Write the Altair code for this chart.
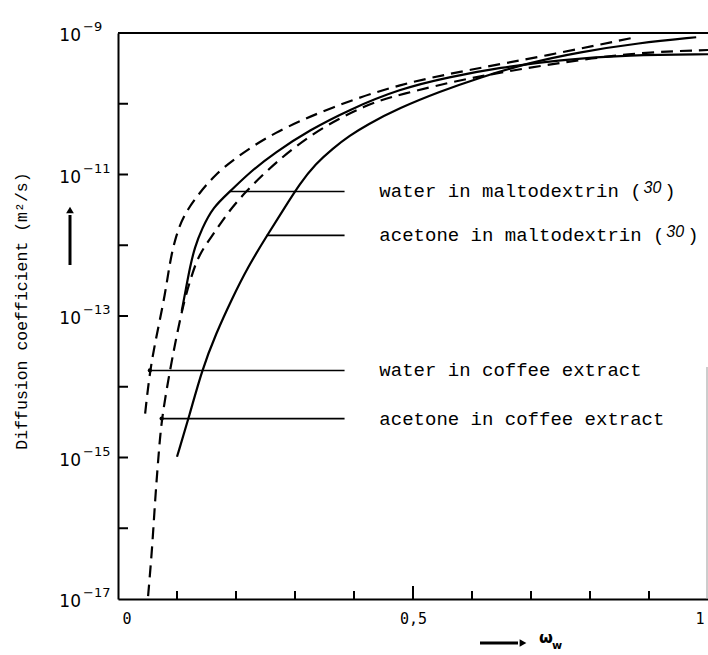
import altair as alt
import pandas as pd

W, H = 590, 566

# ---- curves: x = omega_w, y = log10(D / m^2 s^-1) ----
water_malto_x = [0.108, 0.115, 0.122, 0.130, 0.142, 0.161, 0.190, 0.223, 0.266, 0.325, 0.393, 0.477, 0.562, 0.646, 0.748, 0.866, 1.0]
water_malto_y = [-12.93, -12.62, -12.31, -12.03, -11.77, -11.46, -11.24, -10.97, -10.69, -10.37, -10.08, -9.79, -9.62, -9.49, -9.38, -9.31, -9.30]

acetone_malto_x = [0.100, 0.122, 0.142, 0.166, 0.193, 0.220, 0.252, 0.281, 0.308, 0.335, 0.364, 0.393, 0.421, 0.477, 0.545, 0.613, 0.697, 0.782, 0.883, 0.980]
acetone_malto_y = [-14.99, -14.38, -13.77, -13.25, -12.76, -12.31, -11.87, -11.49, -11.13, -10.85, -10.63, -10.45, -10.30, -10.06, -9.83, -9.63, -9.42, -9.27, -9.14, -9.06]

water_coffee_x = [0.046, 0.054, 0.066, 0.080, 0.088, 0.098, 0.112, 0.139, 0.164, 0.195, 0.262, 0.364, 0.477, 0.596, 0.726, 0.871]
water_coffee_y = [-14.38, -13.77, -13.25, -12.69, -12.23, -11.87, -11.56, -11.25, -11.01, -10.79, -10.41, -10.04, -9.72, -9.52, -9.32, -9.07]

acetone_coffee_x = [0.051, 0.058, 0.063, 0.069, 0.074, 0.088, 0.100, 0.113, 0.124, 0.137, 0.161, 0.186, 0.212, 0.266, 0.337, 0.421, 0.477, 0.596, 0.726, 0.866, 1.0]
acetone_coffee_y = [-16.96, -16.28, -15.58, -14.94, -14.45, -13.77, -13.25, -12.76, -12.45, -12.13, -11.85, -11.54, -11.28, -10.83, -10.37, -10.01, -9.87, -9.63, -9.45, -9.28, -9.24]

# ---- annotation labels ----
label_main = ["water in maltodextrin (", "acetone in maltodextrin (", "water in coffee extract", "acetone in coffee extract"]
label_ref = ["30", "30", "", ""]
label_close = [")", ")", "", ""]
label_logy = [-11.24, -11.86, -13.77, -14.45]
leader_start = [0.190, 0.252, 0.054, 0.074]
leader_end = 0.384
label_x = 0.443
dot_flags = [False, False, True, True]

# ---- axes ----
y_label_exp = [-9, -11, -13, -15, -17]
y_tick_exp = [-10, -11, -12, -13, -14, -15, -16]
x_minor_ticks = [0.1, 0.2, 0.3, 0.4, 0.6, 0.7, 0.8, 0.9]
x_major_ticks = [0.5]
x_label_vals = [0, 0.5, 1]

xs = alt.Scale(domain=[0, 1], nice=False, zero=False)
ys = alt.Scale(type="log", domain=[1e-17, 1e-9], nice=False)


def curve_df(name, xv, yv):
    return pd.DataFrame({"series": name, "x": xv, "D": [10.0 ** v for v in yv]})


solid_df = pd.concat([curve_df("water in maltodextrin", water_malto_x, water_malto_y),
                      curve_df("acetone in maltodextrin", acetone_malto_x, acetone_malto_y)])
dashed_df = pd.concat([curve_df("water in coffee extract", water_coffee_x, water_coffee_y),
                       curve_df("acetone in coffee extract", acetone_coffee_x, acetone_coffee_y)])

solid = alt.Chart(solid_df).mark_line(color="black", strokeWidth=2.2, interpolate="basis").encode(
    x=alt.X("x:Q", scale=xs, axis=alt.Axis(values=x_label_vals, ticks=False, grid=False, domainColor="black",
                                           domainWidth=2, labelFont="DejaVu Sans Mono", labelFontSize=15,
                                           labelColor="black", labelPadding=12, labelFlush=True,
                                           labelFlushOffset=-4,
                                           labelExpr="replace(format(datum.value, '.1~f'), '.', ',')",
                                           title=None)),
    y=alt.Y("D:Q", scale=ys, axis=alt.Axis(labels=False, ticks=False, grid=False, domainColor="black",
                                           domainWidth=2, title=None)),
    detail="series:N",
)
dashed = alt.Chart(dashed_df).mark_line(color="black", strokeWidth=2.2, strokeDash=[12, 7],
                                        interpolate="basis").encode(
    x=alt.X("x:Q", scale=xs), y=alt.Y("D:Q", scale=ys), detail="series:N"
)

lab_df = pd.DataFrame({"main": label_main, "D": [10.0 ** v for v in label_logy],
                       "x0": leader_start, "x1": leader_end, "lx": label_x, "dot": dot_flags})

leaders = alt.Chart(lab_df).mark_rule(color="black", strokeWidth=1.6).encode(
    x=alt.X("x0:Q", scale=xs), x2="x1:Q", y=alt.Y("D:Q", scale=ys))
dots = alt.Chart(lab_df[lab_df["dot"]]).mark_point(filled=True, color="black", size=18, opacity=1).encode(
    x=alt.X("x0:Q", scale=xs), y=alt.Y("D:Q", scale=ys))

FS = 19
CW = 0.6 * FS
label_layers = []
for i in range(len(label_main)):
    row = lab_df.iloc[[i]]
    label_layers.append(alt.Chart(row).mark_text(align="left", baseline="middle", font="Liberation Mono",
                                                 fontSize=FS, color="black").encode(
        x=alt.X("lx:Q", scale=xs), y=alt.Y("D:Q", scale=ys), text="main:N"))
    if label_ref[i]:
        n = len(label_main[i])
        rr = row.assign(ref=label_ref[i], close=label_close[i])
        label_layers.append(alt.Chart(rr).mark_text(align="left", baseline="middle", font="Liberation Sans",
                                                    fontStyle="italic", fontSize=16, color="black",
                                                    dx=n * CW + 2, dy=-3).encode(
            x=alt.X("lx:Q", scale=xs), y=alt.Y("D:Q", scale=ys), text="ref:N"))
        label_layers.append(alt.Chart(rr).mark_text(align="left", baseline="middle", font="Liberation Mono",
                                                    fontSize=FS, color="black",
                                                    dx=(n + 2) * CW).encode(
            x=alt.X("lx:Q", scale=xs), y=alt.Y("D:Q", scale=ys), text="close:N"))

# inward ticks
ytick_df = pd.DataFrame({"D": [10.0 ** e for e in y_tick_exp]})
yticks = alt.Chart(ytick_df).mark_rule(color="black", strokeWidth=2).encode(
    y=alt.Y("D:Q", scale=ys), x=alt.value(0), x2=alt.value(10))
xminor = alt.Chart(pd.DataFrame({"x": x_minor_ticks})).mark_rule(color="black", strokeWidth=2).encode(
    x=alt.X("x:Q", scale=xs), y=alt.value(H), y2=alt.value(H - 8))
xmajor = alt.Chart(pd.DataFrame({"x": x_major_ticks})).mark_rule(color="black", strokeWidth=2).encode(
    x=alt.X("x:Q", scale=xs), y=alt.value(H), y2=alt.value(H - 13))

# frame pieces
top_border = alt.Chart(pd.DataFrame({"a": [0]})).mark_rule(color="black", strokeWidth=2).encode(
    x=alt.value(0), x2=alt.value(W), y=alt.value(0))
right_edge = alt.Chart(pd.DataFrame({"a": [0]})).mark_rule(color="#9a9a9a", strokeWidth=1).encode(
    x=alt.value(W - 1), y=alt.value(334), y2=alt.value(H))

# y tick labels 10^n
ylab_df = pd.DataFrame({"D": [10.0 ** e for e in y_label_exp], "base": "10",
                        "exp": ["\u2212" + str(-e) for e in y_label_exp]})
ylab_base = alt.Chart(ylab_df).mark_text(align="right", baseline="middle", font="DejaVu Sans",
                                         fontSize=17, color="black", dy=3).encode(
    y=alt.Y("D:Q", scale=ys), x=alt.value(-37), text="base:N")
ylab_exp = alt.Chart(ylab_df).mark_text(align="left", baseline="middle", font="DejaVu Sans",
                                        fontSize=13, color="black", dy=-6).encode(
    y=alt.Y("D:Q", scale=ys), x=alt.value(-35), text="exp:N")

# y title and arrow
ytitle = alt.Chart(pd.DataFrame({"t": ["Diffusion coefficient (m\u00b2/s)"]})).mark_text(
    angle=270, align="center", baseline="middle", font="Liberation Mono", fontSize=16.5, color="black").encode(
    x=alt.value(-96), y=alt.value(278), text="t:N")
yarrow = alt.Chart(pd.DataFrame({"a": [0]})).mark_rule(color="black", strokeWidth=3).encode(
    x=alt.value(-48), y=alt.value(232), y2=alt.value(182))
yarrow_head = alt.Chart(pd.DataFrame({"a": [0]})).mark_point(shape="triangle-up", filled=True, color="black",
                                                               size=60, opacity=1).encode(
    x=alt.value(-48), y=alt.value(177))

# x title: arrow + omega_w
xarrow = alt.Chart(pd.DataFrame({"a": [0]})).mark_rule(color="black", strokeWidth=3).encode(
    x=alt.value(362), x2=alt.value(400), y=alt.value(610))
xarrow_head = alt.Chart(pd.DataFrame({"a": [0]})).mark_point(shape="triangle-right", filled=True,
                                                               color="black", size=60, opacity=1).encode(
    x=alt.value(405), y=alt.value(610))
xomega = alt.Chart(pd.DataFrame({"t": ["\u03c9"]})).mark_text(
    align="left", baseline="middle", font="DejaVu Sans", fontSize=16, fontWeight="bold", color="black").encode(
    x=alt.value(421), y=alt.value(605), text="t:N")
xsub = alt.Chart(pd.DataFrame({"t": ["w"]})).mark_text(
    align="left", baseline="middle", font="DejaVu Sans", fontSize=11, fontWeight="bold", color="black").encode(
    x=alt.value(434), y=alt.value(613), text="t:N")

chart = alt.layer(
    solid, dashed, leaders, dots, *label_layers, yticks, xminor, xmajor, top_border, right_edge,
    ylab_base, ylab_exp, ytitle, yarrow, yarrow_head, xarrow, xarrow_head, xomega, xsub
).properties(
    width=W, height=H,
    autosize=alt.AutoSizeParams(type="none"),
    padding={"left": 118, "top": 33, "right": 0, "bottom": 56},
    background="white",
).configure_view(stroke=None)

chart.save("out.html", embed_options={"renderer": "svg", "actions": False})
